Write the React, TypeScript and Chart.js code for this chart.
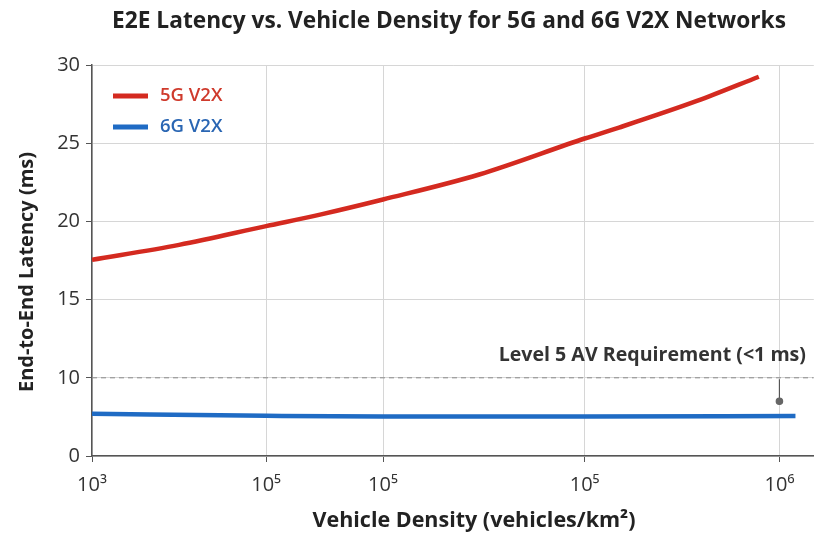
import { useEffect, useRef } from 'react';
import { Chart, registerables } from 'chart.js';
Chart.register(...registerables);

// Axis positions (x in log10-like display units, y in display units)
const xTickValues = [3, 3.76, 4.27, 5.15, 6];
const xTickLabels = ['10³', '10⁵', '10⁵', '10⁵', '10⁶'];
const yTickValues = [5, 10, 15, 20, 25, 30];
const yTickLabels = ['0', '10', '15', '20', '25', '30'];

// Series
const x5G = [3, 3.38, 3.76, 4.0, 4.27, 4.69, 5.15, 5.3, 5.64, 5.91];
const y5G = [17.55, 18.5, 19.7, 20.45, 21.4, 23.0, 25.3, 26.0, 27.7, 29.25];
const x6G = [3, 3.76, 4.27, 5.15, 6.07];
const y6G = [7.7, 7.57, 7.52, 7.52, 7.55];

// Requirement reference
const reqX = [3, 6.15];
const reqY = 10;
const markerX = 6.0;
const markerY = [9.9, 8.5];

const seriesNames = ['5G V2X', '6G V2X'];
const seriesColors = ['#d42a20', '#1f6bc4'];
const legendTextColors = ['#cf3a2c', '#2a66b3'];

const TITLE = 'E2E Latency vs. Vehicle Density for 5G and 6G V2X Networks';
const X_TITLE = 'Vehicle Density (vehicles/km²)';
const Y_TITLE = 'End-to-End Latency (ms)';
const REQ_LABEL = 'Level 5 AV Requirement (<1 ms)';

const FONT = '"Open Sans", "Noto Sans", sans-serif';

export default function App() {
  const ref = useRef<HTMLCanvasElement>(null);
  useEffect(() => {
    document.body.style.margin = '0';
    const canvas = ref.current!;
    const textPlugin = {
      id: 'texts',
      afterDraw(chart: any) {
        const ctx = chart.ctx as CanvasRenderingContext2D;
        ctx.save();
        // Title
        ctx.fillStyle = '#222';
        ctx.textAlign = 'center';
        ctx.textBaseline = 'middle';
        ctx.font = `700 22.7px ${FONT}`;
        ctx.fillText(TITLE, 449, 22);
        // X title
        ctx.font = `700 21.5px ${FONT}`;
        ctx.fillText(X_TITLE, 474, 521);
        // Y title
        ctx.save();
        ctx.translate(27, 272);
        ctx.rotate(-Math.PI / 2);
        ctx.font = `700 20px ${FONT}`;
        ctx.fillText(Y_TITLE, 0, 0);
        ctx.restore();
        // Legend
        seriesNames.forEach((n, i) => {
          const y = 96 + i * 31;
          ctx.strokeStyle = seriesColors[i];
          ctx.lineWidth = 5;
          ctx.lineCap = 'butt';
          ctx.beginPath();
          ctx.moveTo(113, y);
          ctx.lineTo(148, y);
          ctx.stroke();
          ctx.fillStyle = legendTextColors[i];
          ctx.font = `600 18.5px ${FONT}`;
          ctx.textAlign = 'left';
          ctx.fillText(n, 160, y);
        });
        // Requirement label
        ctx.fillStyle = '#333';
        ctx.font = `700 19.6px ${FONT}`;
        ctx.textAlign = 'right';
        ctx.fillText(REQ_LABEL, 806, 355);
        ctx.restore();
      },
    };

    const chart = new Chart(canvas, {
      type: 'line',
      data: {
        datasets: [
          {
            label: seriesNames[0],
            data: x5G.map((x, i) => ({ x, y: y5G[i] })),
            borderColor: seriesColors[0],
            borderWidth: 4.5,
            pointRadius: 0,
            cubicInterpolationMode: 'monotone',
          },
          {
            label: seriesNames[1],
            data: x6G.map((x, i) => ({ x, y: y6G[i] })),
            borderColor: seriesColors[1],
            borderWidth: 4.5,
            pointRadius: 0,
            cubicInterpolationMode: 'monotone',
          },
          {
            label: 'req',
            data: reqX.map((x) => ({ x, y: reqY })),
            borderColor: '#8a8a8a',
            borderWidth: 1,
            borderDash: [5, 4],
            pointRadius: 0,
          },
          {
            label: 'marker',
            data: markerY.map((y) => ({ x: markerX, y })),
            borderColor: '#555',
            borderWidth: 1.2,
            pointRadius: [0, 3.2],
            pointBackgroundColor: '#666',
            pointBorderColor: '#666',
          },
        ],
      },
      options: {
        responsive: false,
        animation: false,
        layout: { padding: { top: 65, right: 2, left: 0, bottom: 0 } },
        plugins: { legend: { display: false }, title: { display: false }, tooltip: { enabled: false } },
        scales: {
          x: {
            type: 'linear',
            min: 3,
            max: 6.15,
            afterBuildTicks: (s: any) => {
              s.ticks = xTickValues.map((v) => ({ value: v }));
            },
            afterFit: (s: any) => {
              s.height = 79;
            },
            ticks: {
              callback: (_v: any, i: number) => xTickLabels[i],
              font: { family: FONT, size: 20 },
              color: '#333',
              padding: 11,
              maxRotation: 0,
              autoSkip: false,
            },
            grid: { color: '#d6d6d6', tickColor: '#555', tickLength: 6, lineWidth: 1 },
            border: { color: '#555', width: 1.5 },
          },
          y: {
            type: 'linear',
            min: 5,
            max: 30,
            afterBuildTicks: (s: any) => {
              s.ticks = yTickValues.map((v) => ({ value: v }));
            },
            afterFit: (s: any) => {
              s.width = 92;
            },
            ticks: {
              callback: (_v: any, i: number) => yTickLabels[i],
              font: { family: FONT, size: 20 },
              color: '#333',
              padding: 6,
              autoSkip: false,
            },
            grid: { color: '#d6d6d6', tickColor: '#555', tickLength: 6, lineWidth: 1 },
            border: { color: '#555', width: 1.5 },
          },
        },
      },
      plugins: [textPlugin],
    } as any);
    return () => chart.destroy();
  }, []);
  return <canvas ref={ref} width={819} height={535} style={{ display: 'block' }} />;
}
